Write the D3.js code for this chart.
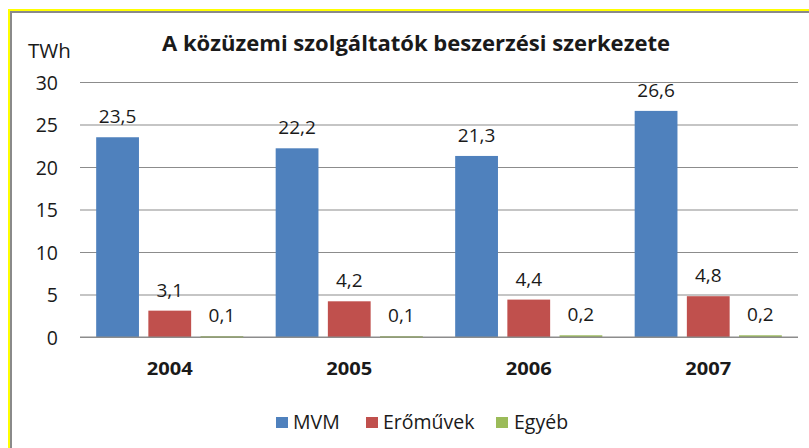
<!DOCTYPE html>
<html>
<head>
<meta charset="utf-8">
<script src="https://cdn.jsdelivr.net/npm/d3@7"></script>
<style>
  html, body { margin: 0; padding: 0; background: #ffffff; }
  svg { display: block; }
  text { font-family: "Open Sans", "Noto Sans", sans-serif; fill: #1a1a1a; }
</style>
</head>
<body>
<svg id="chart" width="809" height="448"></svg>
<script>
const title = "A közüzemi szolgáltatók beszerzési szerkezete";
const unitLabel = "TWh";
const years = ["2004", "2005", "2006", "2007"];
const seriesNames = ["MVM", "Erőművek", "Egyéb"];
const mvm = [23.5, 22.2, 21.3, 26.6];
const eromuvek = [3.1, 4.2, 4.4, 4.8];
const egyeb = [0.1, 0.1, 0.2, 0.2];
const yTicks = [0, 5, 10, 15, 20, 25, 30];
const colors = ["#4F81BD", "#C0504D", "#9BBB59"];

const seriesValues = [mvm, eromuvek, egyeb];
const data = years.map((y, i) => ({
  year: y,
  values: seriesNames.map((s, k) => ({ name: s, value: seriesValues[k][i], k }))
}));

const svg = d3.select("#chart");
const W = 809, H = 448;

// Background
svg.append("rect").attr("width", W).attr("height", H).attr("fill", "#ffffff");

// Frame (yellow outer + grey inner, top and left edges)
svg.append("path").attr("d", "M9,448 V10 H809").attr("fill", "none")
  .attr("stroke", "#ffff00").attr("stroke-width", 2);
svg.append("path").attr("d", "M11,448 V12 H809").attr("fill", "none")
  .attr("stroke", "#8a8a8a").attr("stroke-width", 2);

const plotLeft = 80, plotRight = 798, plotTop = 82, plotBottom = 337;

const x0 = d3.scaleBand().domain(years).range([plotLeft, plotRight]).padding(0);
const x1 = d3.scaleBand().domain(seriesNames).range([0, x0.bandwidth()])
  .paddingInner(0.18).paddingOuter(0.31);
const y = d3.scaleLinear().domain([0, 30]).range([plotBottom, plotTop]);

// Gridlines + tick labels
const yAxis = d3.axisLeft(y).tickValues(yTicks).tickSize(-(plotRight - plotLeft)).tickFormat(d => d);
const gy = svg.append("g").attr("transform", `translate(${plotLeft},0)`).call(yAxis);
gy.select(".domain").remove();
gy.selectAll(".tick line").attr("stroke", "#8c8c8c").attr("stroke-width", 1.2);
gy.selectAll(".tick text").attr("x", -22).attr("dy", "0.36em")
  .style("font-family", "'Open Sans', sans-serif").style("font-size", "19.5px").attr("fill", "#1a1a1a");

// Bars
const groups = svg.append("g").selectAll("g").data(data).join("g")
  .attr("transform", d => `translate(${x0(d.year)},0)`);

groups.selectAll("rect").data(d => d.values).join("rect")
  .attr("x", d => x1(d.name))
  .attr("y", d => y(d.value))
  .attr("width", x1.bandwidth())
  .attr("height", d => Math.max(1.5, y(0) - y(d.value)))
  .attr("fill", d => colors[d.k]);

// Value labels
groups.selectAll("text.val").data(d => d.values).join("text")
  .attr("class", "val")
  .attr("x", d => x1(d.name) + x1.bandwidth() / 2)
  .attr("y", d => y(d.value) - 14)
  .attr("text-anchor", "middle")
  .style("font-size", "19px")
  .text(d => d3.format(".1f")(d.value).replace(".", ","));

// Baseline over bars
svg.append("line").attr("x1", plotLeft).attr("x2", plotRight)
  .attr("y1", y(0)).attr("y2", y(0)).attr("stroke", "#8c8c8c").attr("stroke-width", 1.2);

// Category labels
const xAxis = d3.axisBottom(x0).tickSize(0).tickPadding(0);
const gx = svg.append("g").attr("transform", `translate(0,${plotBottom})`).call(xAxis);
gx.select(".domain").remove();
gx.selectAll(".tick text").attr("y", 38).attr("dy", 0)
  .attr("textLength", 46).attr("lengthAdjust", "spacingAndGlyphs")
  .style("font-family", "'Open Sans', sans-serif").style("font-size", "17.5px")
  .style("font-weight", "bold").attr("fill", "#1a1a1a");

// Title
svg.append("text").attr("x", 416).attr("y", 51).attr("text-anchor", "middle")
  .attr("textLength", 508).attr("lengthAdjust", "spacingAndGlyphs")
  .style("font-size", "21.5px").style("font-weight", "bold").text(title);

// Unit label
svg.append("text").attr("x", 28).attr("y", 58)
  .style("font-size", "20.5px").text(unitLabel);

// Legend
const legendItems = [
  { name: seriesNames[0], sx: 276, tx: 293 },
  { name: seriesNames[1], sx: 366, tx: 383 },
  { name: seriesNames[2], sx: 496, tx: 514 }
];
const lg = svg.append("g");
legendItems.forEach((d, k) => {
  lg.append("rect").attr("x", d.sx).attr("y", 417).attr("width", 12).attr("height", 11).attr("fill", colors[k]);
  lg.append("text").attr("x", d.tx).attr("y", 429).style("font-size", "19.5px").text(d.name);
});
</script>
</body>
</html>
